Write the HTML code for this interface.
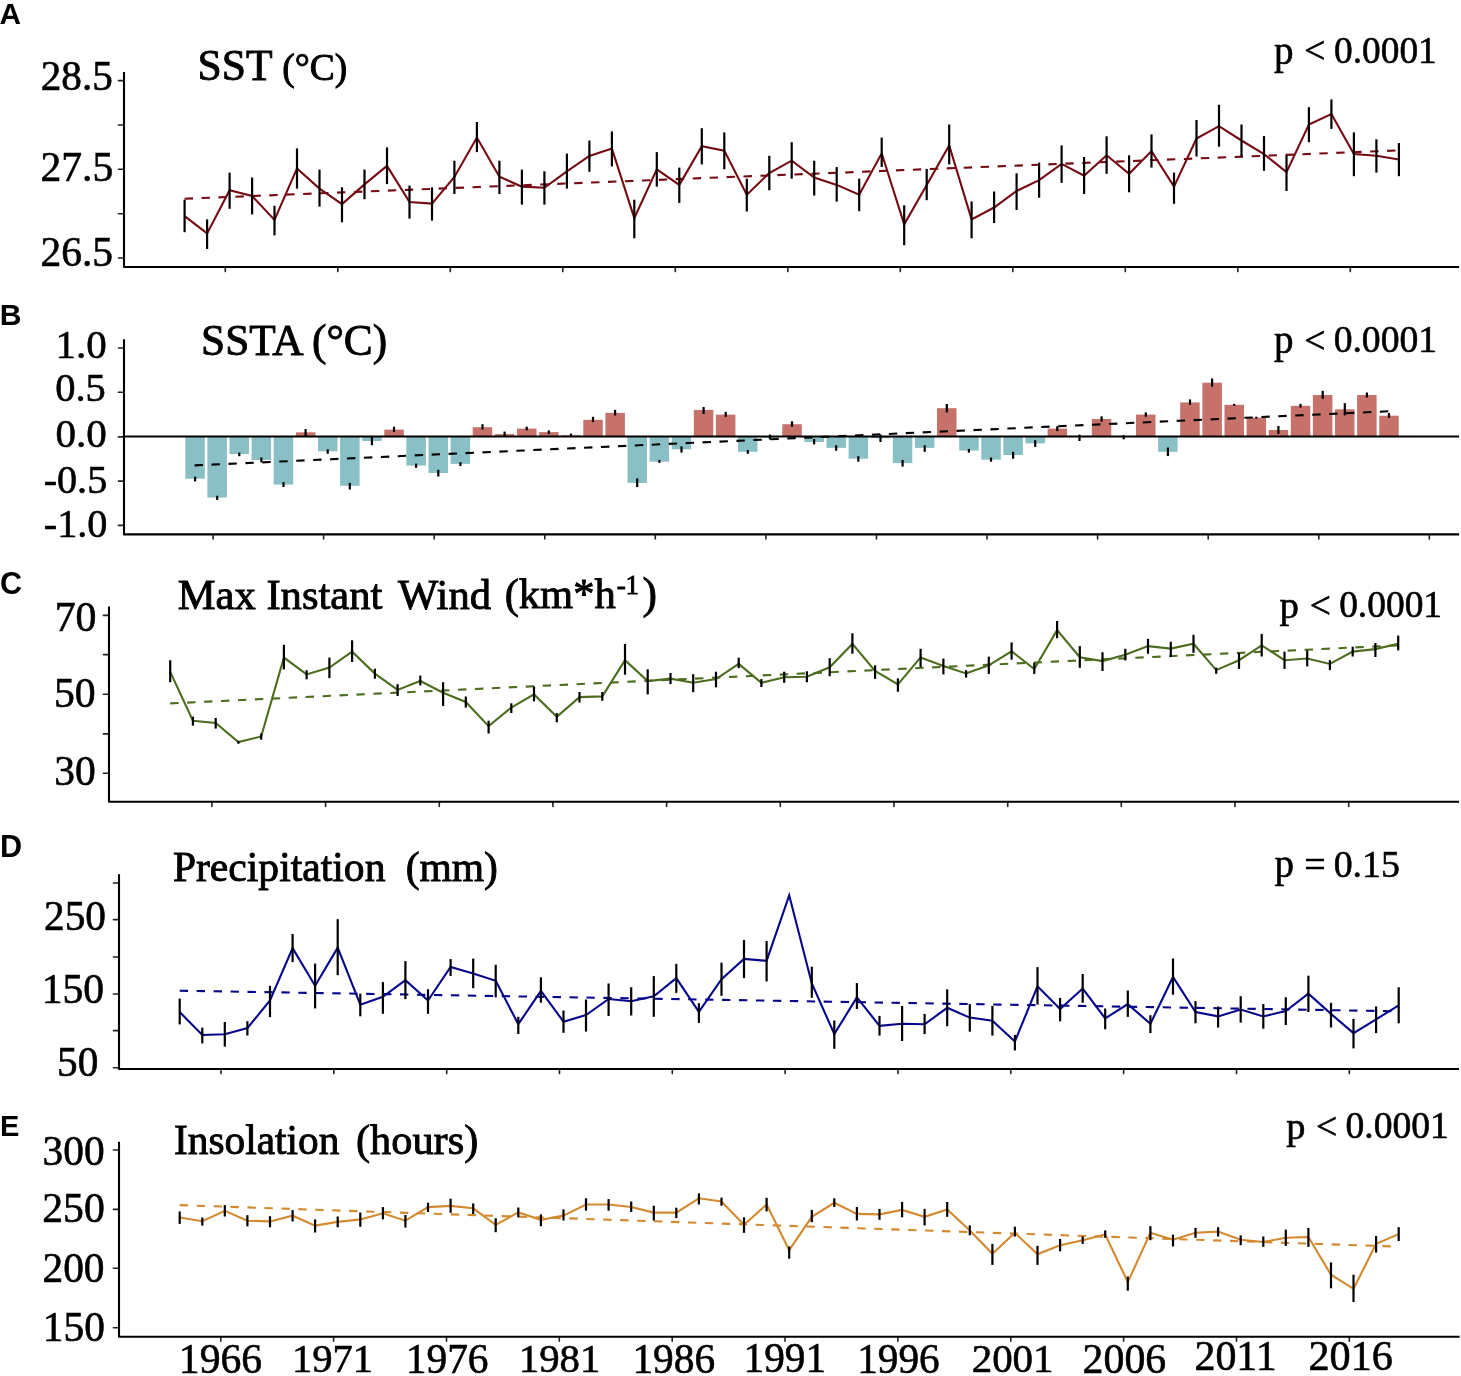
<!DOCTYPE html>
<html><head><meta charset="utf-8"><style>
html,body{margin:0;padding:0;background:#fff;overflow:hidden;}
svg{display:block;will-change:transform;}
</style></head><body>
<svg width="1461" height="1376" viewBox="0 0 1461 1376">
<rect width="1461" height="1376" fill="#fff"/>
<line x1="118.4" y1="80.6" x2="124" y2="80.6" stroke="#222" stroke-width="1.6" stroke-linecap="round"/>
<line x1="118.4" y1="125" x2="124" y2="125" stroke="#222" stroke-width="1.6" stroke-linecap="round"/>
<line x1="118.4" y1="169.2" x2="124" y2="169.2" stroke="#222" stroke-width="1.6" stroke-linecap="round"/>
<line x1="118.4" y1="213.8" x2="124" y2="213.8" stroke="#222" stroke-width="1.6" stroke-linecap="round"/>
<line x1="118.4" y1="258" x2="124" y2="258" stroke="#222" stroke-width="1.6" stroke-linecap="round"/>
<line x1="225.3" y1="267" x2="225.3" y2="271.6" stroke="#222" stroke-width="1.6" stroke-linecap="round"/>
<line x1="337.8" y1="267" x2="337.8" y2="271.6" stroke="#222" stroke-width="1.6" stroke-linecap="round"/>
<line x1="450.3" y1="267" x2="450.3" y2="271.6" stroke="#222" stroke-width="1.6" stroke-linecap="round"/>
<line x1="562.8" y1="267" x2="562.8" y2="271.6" stroke="#222" stroke-width="1.6" stroke-linecap="round"/>
<line x1="675.3" y1="267" x2="675.3" y2="271.6" stroke="#222" stroke-width="1.6" stroke-linecap="round"/>
<line x1="787.8" y1="267" x2="787.8" y2="271.6" stroke="#222" stroke-width="1.6" stroke-linecap="round"/>
<line x1="900.3" y1="267" x2="900.3" y2="271.6" stroke="#222" stroke-width="1.6" stroke-linecap="round"/>
<line x1="1012.8" y1="267" x2="1012.8" y2="271.6" stroke="#222" stroke-width="1.6" stroke-linecap="round"/>
<line x1="1125.3" y1="267" x2="1125.3" y2="271.6" stroke="#222" stroke-width="1.6" stroke-linecap="round"/>
<line x1="1237.8" y1="267" x2="1237.8" y2="271.6" stroke="#222" stroke-width="1.6" stroke-linecap="round"/>
<line x1="1350.3" y1="267" x2="1350.3" y2="271.6" stroke="#222" stroke-width="1.6" stroke-linecap="round"/>
<polyline points="124,71.9 124,267 1459.1,267" fill="none" stroke="#000" stroke-width="2.1" stroke-linejoin="round"/>
<line x1="184.6" y1="198.7" x2="1398.9" y2="150.4" stroke="#750a12" stroke-width="2.1" stroke-dasharray="8.4 8.55"/>
<polyline points="184.6,216.2 207.1,233.4 229.6,190.3 252.1,196.0 274.5,219.9 297.0,168.4 319.5,188.6 342.0,204.1 364.5,184.4 387.0,165.9 409.5,202.1 432.0,203.6 454.4,177.0 476.9,137.6 499.4,176.7 521.9,186.6 544.4,187.8 566.9,171.3 589.4,156.0 611.9,148.6 634.3,218.1 656.8,169.3 679.3,184.9 701.8,146.2 724.3,150.6 746.8,194.7 769.3,173.0 791.7,160.7 814.2,177.5 836.7,184.9 859.2,194.7 881.7,153.3 904.2,224.3 926.7,184.9 949.2,145.4 971.6,219.4 994.1,207.5 1016.6,191.0 1039.1,180.2 1061.6,163.9 1084.1,175.8 1106.6,155.3 1129.1,173.8 1151.5,151.1 1174.0,186.6 1196.5,138.5 1219.0,126.2 1241.5,140.5 1264.0,154.1 1286.5,172.1 1308.9,124.5 1331.4,114.1 1353.9,154.1 1376.4,155.8 1398.9,159.5" fill="none" stroke="#750a12" stroke-width="2.1" stroke-linejoin="miter" stroke-miterlimit="10"/>
<line x1="184.6" y1="199.7" x2="184.6" y2="232.2" stroke="#000" stroke-width="2.2"/>
<line x1="207.1" y1="219.4" x2="207.1" y2="249.0" stroke="#000" stroke-width="2.2"/>
<line x1="229.6" y1="172.6" x2="229.6" y2="208.8" stroke="#000" stroke-width="2.2"/>
<line x1="252.1" y1="177.5" x2="252.1" y2="214.4" stroke="#000" stroke-width="2.2"/>
<line x1="274.5" y1="205.8" x2="274.5" y2="235.4" stroke="#000" stroke-width="2.2"/>
<line x1="297.0" y1="148.4" x2="297.0" y2="188.6" stroke="#000" stroke-width="2.2"/>
<line x1="319.5" y1="169.6" x2="319.5" y2="206.6" stroke="#000" stroke-width="2.2"/>
<line x1="342.0" y1="187.3" x2="342.0" y2="222.3" stroke="#000" stroke-width="2.2"/>
<line x1="364.5" y1="169.6" x2="364.5" y2="199.2" stroke="#000" stroke-width="2.2"/>
<line x1="387.0" y1="147.4" x2="387.0" y2="184.1" stroke="#000" stroke-width="2.2"/>
<line x1="409.5" y1="185.6" x2="409.5" y2="218.6" stroke="#000" stroke-width="2.2"/>
<line x1="432.0" y1="187.3" x2="432.0" y2="220.6" stroke="#000" stroke-width="2.2"/>
<line x1="454.4" y1="160.7" x2="454.4" y2="194.0" stroke="#000" stroke-width="2.2"/>
<line x1="476.9" y1="122.0" x2="476.9" y2="152.1" stroke="#000" stroke-width="2.2"/>
<line x1="499.4" y1="160.7" x2="499.4" y2="194.0" stroke="#000" stroke-width="2.2"/>
<line x1="521.9" y1="169.6" x2="521.9" y2="204.6" stroke="#000" stroke-width="2.2"/>
<line x1="544.4" y1="171.3" x2="544.4" y2="204.6" stroke="#000" stroke-width="2.2"/>
<line x1="566.9" y1="153.6" x2="566.9" y2="188.6" stroke="#000" stroke-width="2.2"/>
<line x1="589.4" y1="140.5" x2="589.4" y2="171.8" stroke="#000" stroke-width="2.2"/>
<line x1="611.9" y1="131.4" x2="611.9" y2="166.4" stroke="#000" stroke-width="2.2"/>
<line x1="634.3" y1="199.7" x2="634.3" y2="238.3" stroke="#000" stroke-width="2.2"/>
<line x1="656.8" y1="152.1" x2="656.8" y2="186.6" stroke="#000" stroke-width="2.2"/>
<line x1="679.3" y1="167.6" x2="679.3" y2="202.9" stroke="#000" stroke-width="2.2"/>
<line x1="701.8" y1="128.2" x2="701.8" y2="164.4" stroke="#000" stroke-width="2.2"/>
<line x1="724.3" y1="132.4" x2="724.3" y2="169.3" stroke="#000" stroke-width="2.2"/>
<line x1="746.8" y1="178.7" x2="746.8" y2="211.5" stroke="#000" stroke-width="2.2"/>
<line x1="769.3" y1="155.8" x2="769.3" y2="190.3" stroke="#000" stroke-width="2.2"/>
<line x1="791.7" y1="142.2" x2="791.7" y2="178.7" stroke="#000" stroke-width="2.2"/>
<line x1="814.2" y1="160.7" x2="814.2" y2="195.5" stroke="#000" stroke-width="2.2"/>
<line x1="836.7" y1="167.1" x2="836.7" y2="201.6" stroke="#000" stroke-width="2.2"/>
<line x1="859.2" y1="178.7" x2="859.2" y2="211.2" stroke="#000" stroke-width="2.2"/>
<line x1="881.7" y1="137.6" x2="881.7" y2="166.9" stroke="#000" stroke-width="2.2"/>
<line x1="904.2" y1="205.3" x2="904.2" y2="245.2" stroke="#000" stroke-width="2.2"/>
<line x1="926.7" y1="168.9" x2="926.7" y2="200.2" stroke="#000" stroke-width="2.2"/>
<line x1="949.2" y1="124.5" x2="949.2" y2="164.4" stroke="#000" stroke-width="2.2"/>
<line x1="971.6" y1="201.4" x2="971.6" y2="238.3" stroke="#000" stroke-width="2.2"/>
<line x1="994.1" y1="191.5" x2="994.1" y2="223.1" stroke="#000" stroke-width="2.2"/>
<line x1="1016.6" y1="173.3" x2="1016.6" y2="210.0" stroke="#000" stroke-width="2.2"/>
<line x1="1039.1" y1="162.7" x2="1039.1" y2="197.7" stroke="#000" stroke-width="2.2"/>
<line x1="1061.6" y1="145.4" x2="1061.6" y2="182.9" stroke="#000" stroke-width="2.2"/>
<line x1="1084.1" y1="157.0" x2="1084.1" y2="194.0" stroke="#000" stroke-width="2.2"/>
<line x1="1106.6" y1="136.3" x2="1106.6" y2="173.8" stroke="#000" stroke-width="2.2"/>
<line x1="1129.1" y1="155.3" x2="1129.1" y2="192.3" stroke="#000" stroke-width="2.2"/>
<line x1="1151.5" y1="134.4" x2="1151.5" y2="167.6" stroke="#000" stroke-width="2.2"/>
<line x1="1174.0" y1="172.6" x2="1174.0" y2="203.8" stroke="#000" stroke-width="2.2"/>
<line x1="1196.5" y1="120.0" x2="1196.5" y2="156.5" stroke="#000" stroke-width="2.2"/>
<line x1="1219.0" y1="104.8" x2="1219.0" y2="146.7" stroke="#000" stroke-width="2.2"/>
<line x1="1241.5" y1="124.5" x2="1241.5" y2="157.0" stroke="#000" stroke-width="2.2"/>
<line x1="1264.0" y1="136.1" x2="1264.0" y2="170.8" stroke="#000" stroke-width="2.2"/>
<line x1="1286.5" y1="155.3" x2="1286.5" y2="191.0" stroke="#000" stroke-width="2.2"/>
<line x1="1308.9" y1="107.2" x2="1308.9" y2="142.2" stroke="#000" stroke-width="2.2"/>
<line x1="1331.4" y1="99.4" x2="1331.4" y2="128.9" stroke="#000" stroke-width="2.2"/>
<line x1="1353.9" y1="132.4" x2="1353.9" y2="176.2" stroke="#000" stroke-width="2.2"/>
<line x1="1376.4" y1="139.3" x2="1376.4" y2="172.6" stroke="#000" stroke-width="2.2"/>
<line x1="1398.9" y1="143.0" x2="1398.9" y2="176.2" stroke="#000" stroke-width="2.2"/>
<rect x="185.3" y="436.5" width="19.5" height="42.2" fill="#89c0c6"/>
<rect x="207.4" y="436.5" width="19.5" height="61.1" fill="#89c0c6"/>
<rect x="229.5" y="436.5" width="19.5" height="17.5" fill="#89c0c6"/>
<rect x="251.6" y="436.5" width="19.5" height="23.5" fill="#89c0c6"/>
<rect x="273.7" y="436.5" width="19.5" height="48.1" fill="#89c0c6"/>
<rect x="295.9" y="432.3" width="19.5" height="4.2" fill="#c6726b"/>
<rect x="318.0" y="436.5" width="19.5" height="14.8" fill="#89c0c6"/>
<rect x="340.1" y="436.5" width="19.5" height="49.3" fill="#89c0c6"/>
<rect x="362.2" y="436.5" width="19.5" height="4.5" fill="#89c0c6"/>
<rect x="384.3" y="429.6" width="19.5" height="6.9" fill="#c6726b"/>
<rect x="406.4" y="436.5" width="19.5" height="29.1" fill="#89c0c6"/>
<rect x="428.5" y="436.5" width="19.5" height="36.5" fill="#89c0c6"/>
<rect x="450.6" y="436.5" width="19.5" height="27.4" fill="#89c0c6"/>
<rect x="472.7" y="427.2" width="19.5" height="9.3" fill="#c6726b"/>
<rect x="494.8" y="434.1" width="19.5" height="2.4" fill="#c6726b"/>
<rect x="517.0" y="428.6" width="19.5" height="7.9" fill="#c6726b"/>
<rect x="539.1" y="432.1" width="19.5" height="4.4" fill="#c6726b"/>
<rect x="561.2" y="435.3" width="19.5" height="1.2" fill="#c6726b"/>
<rect x="583.3" y="419.8" width="19.5" height="16.7" fill="#c6726b"/>
<rect x="605.4" y="412.9" width="19.5" height="23.6" fill="#c6726b"/>
<rect x="627.5" y="436.5" width="19.5" height="46.4" fill="#89c0c6"/>
<rect x="649.6" y="436.5" width="19.5" height="25.2" fill="#89c0c6"/>
<rect x="671.7" y="436.5" width="19.5" height="12.8" fill="#89c0c6"/>
<rect x="693.8" y="409.9" width="19.5" height="26.6" fill="#c6726b"/>
<rect x="715.9" y="414.6" width="19.5" height="21.9" fill="#c6726b"/>
<rect x="738.0" y="436.5" width="19.5" height="15.3" fill="#89c0c6"/>
<rect x="760.2" y="436.5" width="19.5" height="1.3" fill="#89c0c6"/>
<rect x="782.3" y="424.2" width="19.5" height="12.3" fill="#c6726b"/>
<rect x="804.4" y="436.5" width="19.5" height="5.5" fill="#89c0c6"/>
<rect x="826.5" y="436.5" width="19.5" height="11.4" fill="#89c0c6"/>
<rect x="848.6" y="436.5" width="19.5" height="22.2" fill="#89c0c6"/>
<rect x="870.7" y="436.5" width="19.5" height="1.8" fill="#89c0c6"/>
<rect x="892.8" y="436.5" width="19.5" height="26.6" fill="#89c0c6"/>
<rect x="914.9" y="436.5" width="19.5" height="11.4" fill="#89c0c6"/>
<rect x="937.0" y="408.2" width="19.5" height="28.3" fill="#c6726b"/>
<rect x="959.2" y="436.5" width="19.5" height="14.1" fill="#89c0c6"/>
<rect x="981.3" y="436.5" width="19.5" height="23.2" fill="#89c0c6"/>
<rect x="1003.4" y="436.5" width="19.5" height="18.5" fill="#89c0c6"/>
<rect x="1025.5" y="436.5" width="19.5" height="6.9" fill="#89c0c6"/>
<rect x="1047.6" y="428.6" width="19.5" height="7.9" fill="#c6726b"/>
<rect x="1091.8" y="419.0" width="19.5" height="17.5" fill="#c6726b"/>
<rect x="1136.0" y="414.6" width="19.5" height="21.9" fill="#c6726b"/>
<rect x="1158.1" y="436.5" width="19.5" height="15.3" fill="#89c0c6"/>
<rect x="1180.2" y="402.4" width="19.5" height="34.1" fill="#c6726b"/>
<rect x="1202.4" y="382.7" width="19.5" height="53.8" fill="#c6726b"/>
<rect x="1224.5" y="404.8" width="19.5" height="31.7" fill="#c6726b"/>
<rect x="1246.6" y="417.7" width="19.5" height="18.8" fill="#c6726b"/>
<rect x="1268.7" y="430.0" width="19.5" height="6.5" fill="#c6726b"/>
<rect x="1290.8" y="405.8" width="19.5" height="30.7" fill="#c6726b"/>
<rect x="1312.9" y="395.0" width="19.5" height="41.5" fill="#c6726b"/>
<rect x="1335.0" y="409.3" width="19.5" height="27.2" fill="#c6726b"/>
<rect x="1357.1" y="395.0" width="19.5" height="41.5" fill="#c6726b"/>
<rect x="1379.2" y="415.7" width="19.5" height="20.8" fill="#c6726b"/>
<line x1="123" y1="436.5" x2="1459.1" y2="436.5" stroke="#000" stroke-width="2"/>
<line x1="195.1" y1="476.7" x2="195.1" y2="481.4" stroke="#000" stroke-width="2.2"/>
<line x1="217.2" y1="495.7" x2="217.2" y2="499.9" stroke="#000" stroke-width="2.2"/>
<line x1="239.3" y1="452.6" x2="239.3" y2="456.2" stroke="#000" stroke-width="2.2"/>
<line x1="261.4" y1="457.5" x2="261.4" y2="462.4" stroke="#000" stroke-width="2.2"/>
<line x1="283.5" y1="482.1" x2="283.5" y2="487.0" stroke="#000" stroke-width="2.2"/>
<line x1="305.6" y1="429.1" x2="305.6" y2="436.0" stroke="#000" stroke-width="2.2"/>
<line x1="327.7" y1="449.3" x2="327.7" y2="453.8" stroke="#000" stroke-width="2.2"/>
<line x1="349.8" y1="482.9" x2="349.8" y2="489.5" stroke="#000" stroke-width="2.2"/>
<line x1="371.9" y1="437.0" x2="371.9" y2="445.2" stroke="#000" stroke-width="2.2"/>
<line x1="394.0" y1="426.7" x2="394.0" y2="432.1" stroke="#000" stroke-width="2.2"/>
<line x1="416.1" y1="463.6" x2="416.1" y2="467.8" stroke="#000" stroke-width="2.2"/>
<line x1="438.3" y1="469.8" x2="438.3" y2="476.5" stroke="#000" stroke-width="2.2"/>
<line x1="460.4" y1="462.2" x2="460.4" y2="466.1" stroke="#000" stroke-width="2.2"/>
<line x1="482.5" y1="424.2" x2="482.5" y2="429.6" stroke="#000" stroke-width="2.2"/>
<line x1="504.6" y1="431.6" x2="504.6" y2="436.0" stroke="#000" stroke-width="2.2"/>
<line x1="526.7" y1="426.7" x2="526.7" y2="430.4" stroke="#000" stroke-width="2.2"/>
<line x1="548.8" y1="430.4" x2="548.8" y2="434.1" stroke="#000" stroke-width="2.2"/>
<line x1="570.9" y1="433.6" x2="570.9" y2="436.5" stroke="#000" stroke-width="2.2"/>
<line x1="593.0" y1="416.8" x2="593.0" y2="422.2" stroke="#000" stroke-width="2.2"/>
<line x1="615.1" y1="409.9" x2="615.1" y2="415.6" stroke="#000" stroke-width="2.2"/>
<line x1="637.2" y1="478.4" x2="637.2" y2="487.0" stroke="#000" stroke-width="2.2"/>
<line x1="659.4" y1="459.9" x2="659.4" y2="462.9" stroke="#000" stroke-width="2.2"/>
<line x1="681.5" y1="446.4" x2="681.5" y2="452.6" stroke="#000" stroke-width="2.2"/>
<line x1="703.6" y1="407.0" x2="703.6" y2="413.9" stroke="#000" stroke-width="2.2"/>
<line x1="725.7" y1="411.9" x2="725.7" y2="416.8" stroke="#000" stroke-width="2.2"/>
<line x1="747.8" y1="450.1" x2="747.8" y2="453.8" stroke="#000" stroke-width="2.2"/>
<line x1="769.9" y1="434.6" x2="769.9" y2="439.5" stroke="#000" stroke-width="2.2"/>
<line x1="792.0" y1="421.3" x2="792.0" y2="426.7" stroke="#000" stroke-width="2.2"/>
<line x1="814.1" y1="439.0" x2="814.1" y2="444.4" stroke="#000" stroke-width="2.2"/>
<line x1="836.2" y1="445.2" x2="836.2" y2="450.8" stroke="#000" stroke-width="2.2"/>
<line x1="858.3" y1="456.2" x2="858.3" y2="461.7" stroke="#000" stroke-width="2.2"/>
<line x1="880.5" y1="434.6" x2="880.5" y2="442.0" stroke="#000" stroke-width="2.2"/>
<line x1="902.6" y1="459.9" x2="902.6" y2="466.6" stroke="#000" stroke-width="2.2"/>
<line x1="924.7" y1="445.2" x2="924.7" y2="451.8" stroke="#000" stroke-width="2.2"/>
<line x1="946.8" y1="404.0" x2="946.8" y2="412.4" stroke="#000" stroke-width="2.2"/>
<line x1="968.9" y1="448.9" x2="968.9" y2="452.6" stroke="#000" stroke-width="2.2"/>
<line x1="991.0" y1="457.5" x2="991.0" y2="461.7" stroke="#000" stroke-width="2.2"/>
<line x1="1013.1" y1="451.8" x2="1013.1" y2="458.7" stroke="#000" stroke-width="2.2"/>
<line x1="1035.2" y1="440.2" x2="1035.2" y2="446.9" stroke="#000" stroke-width="2.2"/>
<line x1="1057.3" y1="426.2" x2="1057.3" y2="431.1" stroke="#000" stroke-width="2.2"/>
<line x1="1079.5" y1="434.6" x2="1079.5" y2="441.0" stroke="#000" stroke-width="2.2"/>
<line x1="1101.6" y1="416.3" x2="1101.6" y2="421.7" stroke="#000" stroke-width="2.2"/>
<line x1="1123.7" y1="435.2" x2="1123.7" y2="439.3" stroke="#000" stroke-width="2.2"/>
<line x1="1145.8" y1="412.4" x2="1145.8" y2="416.8" stroke="#000" stroke-width="2.2"/>
<line x1="1167.9" y1="447.5" x2="1167.9" y2="456.1" stroke="#000" stroke-width="2.2"/>
<line x1="1190.0" y1="399.4" x2="1190.0" y2="404.8" stroke="#000" stroke-width="2.2"/>
<line x1="1212.1" y1="378.5" x2="1212.1" y2="386.6" stroke="#000" stroke-width="2.2"/>
<line x1="1234.2" y1="403.9" x2="1234.2" y2="405.8" stroke="#000" stroke-width="2.2"/>
<line x1="1256.3" y1="416.7" x2="1256.3" y2="418.6" stroke="#000" stroke-width="2.2"/>
<line x1="1278.4" y1="426.0" x2="1278.4" y2="433.9" stroke="#000" stroke-width="2.2"/>
<line x1="1300.5" y1="403.9" x2="1300.5" y2="407.6" stroke="#000" stroke-width="2.2"/>
<line x1="1322.7" y1="390.8" x2="1322.7" y2="398.9" stroke="#000" stroke-width="2.2"/>
<line x1="1344.8" y1="403.1" x2="1344.8" y2="415.4" stroke="#000" stroke-width="2.2"/>
<line x1="1366.9" y1="392.5" x2="1366.9" y2="397.5" stroke="#000" stroke-width="2.2"/>
<line x1="1389.0" y1="413.0" x2="1389.0" y2="417.9" stroke="#000" stroke-width="2.2"/>
<line x1="194.6" y1="465.4" x2="1388.3" y2="411.3" stroke="#000" stroke-width="2.1" stroke-dasharray="8.4 8.55"/>
<line x1="118.4" y1="348" x2="124" y2="348" stroke="#222" stroke-width="1.6" stroke-linecap="round"/>
<line x1="118.4" y1="392.3" x2="124" y2="392.3" stroke="#222" stroke-width="1.6" stroke-linecap="round"/>
<line x1="118.4" y1="436.9" x2="124" y2="436.9" stroke="#222" stroke-width="1.6" stroke-linecap="round"/>
<line x1="118.4" y1="481.1" x2="124" y2="481.1" stroke="#222" stroke-width="1.6" stroke-linecap="round"/>
<line x1="118.4" y1="525.4" x2="124" y2="525.4" stroke="#222" stroke-width="1.6" stroke-linecap="round"/>
<line x1="213.1" y1="534.4" x2="213.1" y2="539.0" stroke="#222" stroke-width="1.6" stroke-linecap="round"/>
<line x1="323.6" y1="534.4" x2="323.6" y2="539.0" stroke="#222" stroke-width="1.6" stroke-linecap="round"/>
<line x1="434.2" y1="534.4" x2="434.2" y2="539.0" stroke="#222" stroke-width="1.6" stroke-linecap="round"/>
<line x1="544.8" y1="534.4" x2="544.8" y2="539.0" stroke="#222" stroke-width="1.6" stroke-linecap="round"/>
<line x1="655.3" y1="534.4" x2="655.3" y2="539.0" stroke="#222" stroke-width="1.6" stroke-linecap="round"/>
<line x1="765.9" y1="534.4" x2="765.9" y2="539.0" stroke="#222" stroke-width="1.6" stroke-linecap="round"/>
<line x1="876.5" y1="534.4" x2="876.5" y2="539.0" stroke="#222" stroke-width="1.6" stroke-linecap="round"/>
<line x1="987.0" y1="534.4" x2="987.0" y2="539.0" stroke="#222" stroke-width="1.6" stroke-linecap="round"/>
<line x1="1097.6" y1="534.4" x2="1097.6" y2="539.0" stroke="#222" stroke-width="1.6" stroke-linecap="round"/>
<line x1="1208.2" y1="534.4" x2="1208.2" y2="539.0" stroke="#222" stroke-width="1.6" stroke-linecap="round"/>
<line x1="1318.8" y1="534.4" x2="1318.8" y2="539.0" stroke="#222" stroke-width="1.6" stroke-linecap="round"/>
<line x1="1429.3" y1="534.4" x2="1429.3" y2="539.0" stroke="#222" stroke-width="1.6" stroke-linecap="round"/>
<polyline points="124,339.2 124,534.4 1459.1,534.4" fill="none" stroke="#000" stroke-width="2.1" stroke-linejoin="round"/>
<line x1="103.4" y1="615.4" x2="109" y2="615.4" stroke="#222" stroke-width="1.6" stroke-linecap="round"/>
<line x1="103.4" y1="654.6" x2="109" y2="654.6" stroke="#222" stroke-width="1.6" stroke-linecap="round"/>
<line x1="103.4" y1="694.3" x2="109" y2="694.3" stroke="#222" stroke-width="1.6" stroke-linecap="round"/>
<line x1="103.4" y1="733.9" x2="109" y2="733.9" stroke="#222" stroke-width="1.6" stroke-linecap="round"/>
<line x1="103.4" y1="773.2" x2="109" y2="773.2" stroke="#222" stroke-width="1.6" stroke-linecap="round"/>
<line x1="211.9" y1="801.8" x2="211.9" y2="806.4" stroke="#222" stroke-width="1.6" stroke-linecap="round"/>
<line x1="325.6" y1="801.8" x2="325.6" y2="806.4" stroke="#222" stroke-width="1.6" stroke-linecap="round"/>
<line x1="439.3" y1="801.8" x2="439.3" y2="806.4" stroke="#222" stroke-width="1.6" stroke-linecap="round"/>
<line x1="552.9" y1="801.8" x2="552.9" y2="806.4" stroke="#222" stroke-width="1.6" stroke-linecap="round"/>
<line x1="666.6" y1="801.8" x2="666.6" y2="806.4" stroke="#222" stroke-width="1.6" stroke-linecap="round"/>
<line x1="780.3" y1="801.8" x2="780.3" y2="806.4" stroke="#222" stroke-width="1.6" stroke-linecap="round"/>
<line x1="894.0" y1="801.8" x2="894.0" y2="806.4" stroke="#222" stroke-width="1.6" stroke-linecap="round"/>
<line x1="1007.7" y1="801.8" x2="1007.7" y2="806.4" stroke="#222" stroke-width="1.6" stroke-linecap="round"/>
<line x1="1121.3" y1="801.8" x2="1121.3" y2="806.4" stroke="#222" stroke-width="1.6" stroke-linecap="round"/>
<line x1="1235.0" y1="801.8" x2="1235.0" y2="806.4" stroke="#222" stroke-width="1.6" stroke-linecap="round"/>
<line x1="1348.7" y1="801.8" x2="1348.7" y2="806.4" stroke="#222" stroke-width="1.6" stroke-linecap="round"/>
<polyline points="109,606.6 109,801.8 1459,801.8" fill="none" stroke="#000" stroke-width="2.1" stroke-linejoin="round"/>
<line x1="170.2" y1="703.4" x2="1398.2" y2="645.4" stroke="#4c6d1e" stroke-width="2.1" stroke-dasharray="8.4 8.55"/>
<polyline points="170.2,671.9 192.9,720.7 215.7,722.9 238.4,742.1 261.2,736.5 283.9,657.6 306.6,674.4 329.4,667.5 352.1,651.7 374.9,673.6 397.6,689.9 420.3,681.0 443.1,692.8 465.8,702.0 488.6,726.1 511.3,707.5 534.0,694.4 556.8,716.8 579.5,697.1 602.3,696.4 625.0,660.2 647.7,681.1 670.5,678.6 693.2,682.8 716.0,679.1 738.7,663.9 761.4,682.8 784.2,677.2 806.9,676.7 829.7,667.3 852.4,643.9 875.1,671.0 897.9,684.5 920.6,657.4 943.4,666.0 966.1,673.4 988.8,665.3 1011.6,651.3 1034.3,669.0 1057.1,630.1 1079.8,657.2 1102.5,661.1 1125.3,654.7 1148.0,646.1 1170.8,648.6 1193.5,643.7 1216.2,670.1 1239.0,660.2 1261.7,645.4 1284.5,660.2 1307.2,658.5 1329.9,663.9 1352.7,651.6 1375.4,649.1 1398.2,643.7" fill="none" stroke="#4c6d1e" stroke-width="2.1" stroke-linejoin="miter" stroke-miterlimit="10"/>
<line x1="170.2" y1="660.3" x2="170.2" y2="682.2" stroke="#000" stroke-width="2.2"/>
<line x1="192.9" y1="716.7" x2="192.9" y2="725.6" stroke="#000" stroke-width="2.2"/>
<line x1="215.7" y1="718.0" x2="215.7" y2="728.6" stroke="#000" stroke-width="2.2"/>
<line x1="238.4" y1="740.9" x2="238.4" y2="743.8" stroke="#000" stroke-width="2.2"/>
<line x1="261.2" y1="733.5" x2="261.2" y2="739.7" stroke="#000" stroke-width="2.2"/>
<line x1="283.9" y1="644.8" x2="283.9" y2="669.4" stroke="#000" stroke-width="2.2"/>
<line x1="306.6" y1="670.2" x2="306.6" y2="679.3" stroke="#000" stroke-width="2.2"/>
<line x1="329.4" y1="657.6" x2="329.4" y2="678.1" stroke="#000" stroke-width="2.2"/>
<line x1="352.1" y1="640.3" x2="352.1" y2="662.0" stroke="#000" stroke-width="2.2"/>
<line x1="374.9" y1="668.7" x2="374.9" y2="678.8" stroke="#000" stroke-width="2.2"/>
<line x1="397.6" y1="684.2" x2="397.6" y2="696.0" stroke="#000" stroke-width="2.2"/>
<line x1="420.3" y1="675.6" x2="420.3" y2="685.4" stroke="#000" stroke-width="2.2"/>
<line x1="443.1" y1="682.2" x2="443.1" y2="705.9" stroke="#000" stroke-width="2.2"/>
<line x1="465.8" y1="696.5" x2="465.8" y2="707.6" stroke="#000" stroke-width="2.2"/>
<line x1="488.6" y1="720.7" x2="488.6" y2="733.5" stroke="#000" stroke-width="2.2"/>
<line x1="511.3" y1="703.3" x2="511.3" y2="713.1" stroke="#000" stroke-width="2.2"/>
<line x1="534.0" y1="686.5" x2="534.0" y2="701.3" stroke="#000" stroke-width="2.2"/>
<line x1="556.8" y1="713.1" x2="556.8" y2="722.3" stroke="#000" stroke-width="2.2"/>
<line x1="579.5" y1="692.0" x2="579.5" y2="702.6" stroke="#000" stroke-width="2.2"/>
<line x1="602.3" y1="692.0" x2="602.3" y2="700.8" stroke="#000" stroke-width="2.2"/>
<line x1="625.0" y1="643.9" x2="625.0" y2="674.7" stroke="#000" stroke-width="2.2"/>
<line x1="647.7" y1="669.3" x2="647.7" y2="694.4" stroke="#000" stroke-width="2.2"/>
<line x1="670.5" y1="673.0" x2="670.5" y2="684.1" stroke="#000" stroke-width="2.2"/>
<line x1="693.2" y1="674.2" x2="693.2" y2="692.2" stroke="#000" stroke-width="2.2"/>
<line x1="716.0" y1="671.7" x2="716.0" y2="687.3" stroke="#000" stroke-width="2.2"/>
<line x1="738.7" y1="657.7" x2="738.7" y2="668.1" stroke="#000" stroke-width="2.2"/>
<line x1="761.4" y1="679.1" x2="761.4" y2="687.0" stroke="#000" stroke-width="2.2"/>
<line x1="784.2" y1="671.7" x2="784.2" y2="682.8" stroke="#000" stroke-width="2.2"/>
<line x1="806.9" y1="671.3" x2="806.9" y2="682.3" stroke="#000" stroke-width="2.2"/>
<line x1="829.7" y1="658.2" x2="829.7" y2="676.2" stroke="#000" stroke-width="2.2"/>
<line x1="852.4" y1="633.3" x2="852.4" y2="653.7" stroke="#000" stroke-width="2.2"/>
<line x1="875.1" y1="665.3" x2="875.1" y2="678.9" stroke="#000" stroke-width="2.2"/>
<line x1="897.9" y1="678.4" x2="897.9" y2="691.7" stroke="#000" stroke-width="2.2"/>
<line x1="920.6" y1="648.8" x2="920.6" y2="667.0" stroke="#000" stroke-width="2.2"/>
<line x1="943.4" y1="658.6" x2="943.4" y2="674.4" stroke="#000" stroke-width="2.2"/>
<line x1="966.1" y1="670.2" x2="966.1" y2="677.6" stroke="#000" stroke-width="2.2"/>
<line x1="988.8" y1="656.7" x2="988.8" y2="673.9" stroke="#000" stroke-width="2.2"/>
<line x1="1011.6" y1="642.4" x2="1011.6" y2="659.6" stroke="#000" stroke-width="2.2"/>
<line x1="1034.3" y1="662.8" x2="1034.3" y2="673.9" stroke="#000" stroke-width="2.2"/>
<line x1="1057.1" y1="621.0" x2="1057.1" y2="638.2" stroke="#000" stroke-width="2.2"/>
<line x1="1079.8" y1="646.1" x2="1079.8" y2="667.8" stroke="#000" stroke-width="2.2"/>
<line x1="1102.5" y1="652.2" x2="1102.5" y2="671.0" stroke="#000" stroke-width="2.2"/>
<line x1="1125.3" y1="648.8" x2="1125.3" y2="660.4" stroke="#000" stroke-width="2.2"/>
<line x1="1148.0" y1="638.9" x2="1148.0" y2="653.7" stroke="#000" stroke-width="2.2"/>
<line x1="1170.8" y1="641.7" x2="1170.8" y2="657.0" stroke="#000" stroke-width="2.2"/>
<line x1="1193.5" y1="634.8" x2="1193.5" y2="652.8" stroke="#000" stroke-width="2.2"/>
<line x1="1216.2" y1="667.6" x2="1216.2" y2="673.8" stroke="#000" stroke-width="2.2"/>
<line x1="1239.0" y1="652.8" x2="1239.0" y2="668.9" stroke="#000" stroke-width="2.2"/>
<line x1="1261.7" y1="633.9" x2="1261.7" y2="656.5" stroke="#000" stroke-width="2.2"/>
<line x1="1284.5" y1="651.6" x2="1284.5" y2="668.9" stroke="#000" stroke-width="2.2"/>
<line x1="1307.2" y1="650.4" x2="1307.2" y2="666.4" stroke="#000" stroke-width="2.2"/>
<line x1="1329.9" y1="660.2" x2="1329.9" y2="670.1" stroke="#000" stroke-width="2.2"/>
<line x1="1352.7" y1="646.7" x2="1352.7" y2="656.5" stroke="#000" stroke-width="2.2"/>
<line x1="1375.4" y1="643.0" x2="1375.4" y2="657.0" stroke="#000" stroke-width="2.2"/>
<line x1="1398.2" y1="635.6" x2="1398.2" y2="650.4" stroke="#000" stroke-width="2.2"/>
<line x1="113.4" y1="883" x2="119" y2="883" stroke="#222" stroke-width="1.6" stroke-linecap="round"/>
<line x1="113.4" y1="919.6" x2="119" y2="919.6" stroke="#222" stroke-width="1.6" stroke-linecap="round"/>
<line x1="113.4" y1="957" x2="119" y2="957" stroke="#222" stroke-width="1.6" stroke-linecap="round"/>
<line x1="113.4" y1="994" x2="119" y2="994" stroke="#222" stroke-width="1.6" stroke-linecap="round"/>
<line x1="113.4" y1="1030.6" x2="119" y2="1030.6" stroke="#222" stroke-width="1.6" stroke-linecap="round"/>
<line x1="113.4" y1="1067.7" x2="119" y2="1067.7" stroke="#222" stroke-width="1.6" stroke-linecap="round"/>
<line x1="221.0" y1="1069" x2="221.0" y2="1073.6" stroke="#222" stroke-width="1.6" stroke-linecap="round"/>
<line x1="333.8" y1="1069" x2="333.8" y2="1073.6" stroke="#222" stroke-width="1.6" stroke-linecap="round"/>
<line x1="446.7" y1="1069" x2="446.7" y2="1073.6" stroke="#222" stroke-width="1.6" stroke-linecap="round"/>
<line x1="559.5" y1="1069" x2="559.5" y2="1073.6" stroke="#222" stroke-width="1.6" stroke-linecap="round"/>
<line x1="672.3" y1="1069" x2="672.3" y2="1073.6" stroke="#222" stroke-width="1.6" stroke-linecap="round"/>
<line x1="785.1" y1="1069" x2="785.1" y2="1073.6" stroke="#222" stroke-width="1.6" stroke-linecap="round"/>
<line x1="898.0" y1="1069" x2="898.0" y2="1073.6" stroke="#222" stroke-width="1.6" stroke-linecap="round"/>
<line x1="1010.8" y1="1069" x2="1010.8" y2="1073.6" stroke="#222" stroke-width="1.6" stroke-linecap="round"/>
<line x1="1123.6" y1="1069" x2="1123.6" y2="1073.6" stroke="#222" stroke-width="1.6" stroke-linecap="round"/>
<line x1="1236.5" y1="1069" x2="1236.5" y2="1073.6" stroke="#222" stroke-width="1.6" stroke-linecap="round"/>
<line x1="1349.3" y1="1069" x2="1349.3" y2="1073.6" stroke="#222" stroke-width="1.6" stroke-linecap="round"/>
<polyline points="119,874.3 119,1069 1459,1069" fill="none" stroke="#000" stroke-width="2.1" stroke-linejoin="round"/>
<line x1="179.7" y1="990.7" x2="1398.7" y2="1011.3" stroke="#06068c" stroke-width="2.1" stroke-dasharray="8.4 8.55"/>
<polyline points="179.7,1012.1 202.3,1035.0 224.8,1034.3 247.4,1028.1 270.0,1000.5 292.6,948.1 315.1,985.8 337.7,947.6 360.3,1004.7 382.9,996.8 405.4,980.1 428.0,1000.5 450.6,967.0 473.2,973.4 495.7,980.8 518.3,1024.2 540.9,990.9 563.5,1021.7 586.0,1015.0 608.6,999.0 631.2,1001.2 653.8,996.3 676.3,978.1 698.9,1011.8 721.5,979.1 744.0,958.9 766.6,960.8 789.2,895.3 811.8,983.5 834.3,1034.0 856.9,997.4 879.5,1025.8 902.1,1023.8 924.6,1024.3 947.2,1007.8 969.8,1017.6 992.4,1020.8 1014.9,1041.5 1037.5,986.3 1060.1,1009.0 1082.7,988.5 1105.2,1018.4 1127.8,1004.1 1150.4,1023.8 1173.0,977.0 1195.5,1012.0 1218.1,1016.4 1240.7,1009.5 1263.3,1016.4 1285.8,1011.0 1308.4,993.7 1331.0,1013.9 1353.5,1033.1 1376.1,1019.3 1398.7,1005.3" fill="none" stroke="#06068c" stroke-width="2.1" stroke-linejoin="miter" stroke-miterlimit="10"/>
<line x1="179.7" y1="998.6" x2="179.7" y2="1024.4" stroke="#000" stroke-width="2.2"/>
<line x1="202.3" y1="1027.6" x2="202.3" y2="1043.4" stroke="#000" stroke-width="2.2"/>
<line x1="224.8" y1="1022.0" x2="224.8" y2="1046.6" stroke="#000" stroke-width="2.2"/>
<line x1="247.4" y1="1021.2" x2="247.4" y2="1035.5" stroke="#000" stroke-width="2.2"/>
<line x1="270.0" y1="985.8" x2="270.0" y2="1017.1" stroke="#000" stroke-width="2.2"/>
<line x1="292.6" y1="934.0" x2="292.6" y2="962.1" stroke="#000" stroke-width="2.2"/>
<line x1="315.1" y1="963.6" x2="315.1" y2="1008.4" stroke="#000" stroke-width="2.2"/>
<line x1="337.7" y1="919.2" x2="337.7" y2="975.2" stroke="#000" stroke-width="2.2"/>
<line x1="360.3" y1="993.6" x2="360.3" y2="1016.3" stroke="#000" stroke-width="2.2"/>
<line x1="382.9" y1="982.1" x2="382.9" y2="1013.8" stroke="#000" stroke-width="2.2"/>
<line x1="405.4" y1="961.1" x2="405.4" y2="999.1" stroke="#000" stroke-width="2.2"/>
<line x1="428.0" y1="989.2" x2="428.0" y2="1013.8" stroke="#000" stroke-width="2.2"/>
<line x1="450.6" y1="959.1" x2="450.6" y2="975.9" stroke="#000" stroke-width="2.2"/>
<line x1="473.2" y1="958.6" x2="473.2" y2="988.2" stroke="#000" stroke-width="2.2"/>
<line x1="495.7" y1="964.8" x2="495.7" y2="997.3" stroke="#000" stroke-width="2.2"/>
<line x1="518.3" y1="1016.8" x2="518.3" y2="1034.0" stroke="#000" stroke-width="2.2"/>
<line x1="540.9" y1="977.3" x2="540.9" y2="1002.7" stroke="#000" stroke-width="2.2"/>
<line x1="563.5" y1="1010.6" x2="563.5" y2="1032.8" stroke="#000" stroke-width="2.2"/>
<line x1="586.0" y1="999.5" x2="586.0" y2="1031.6" stroke="#000" stroke-width="2.2"/>
<line x1="608.6" y1="983.5" x2="608.6" y2="1016.0" stroke="#000" stroke-width="2.2"/>
<line x1="631.2" y1="987.2" x2="631.2" y2="1015.5" stroke="#000" stroke-width="2.2"/>
<line x1="653.8" y1="976.1" x2="653.8" y2="1016.8" stroke="#000" stroke-width="2.2"/>
<line x1="676.3" y1="963.8" x2="676.3" y2="992.9" stroke="#000" stroke-width="2.2"/>
<line x1="698.9" y1="1003.2" x2="698.9" y2="1022.9" stroke="#000" stroke-width="2.2"/>
<line x1="721.5" y1="962.6" x2="721.5" y2="995.8" stroke="#000" stroke-width="2.2"/>
<line x1="744.0" y1="939.9" x2="744.0" y2="978.1" stroke="#000" stroke-width="2.2"/>
<line x1="766.6" y1="941.1" x2="766.6" y2="981.5" stroke="#000" stroke-width="2.2"/>
<line x1="811.8" y1="966.7" x2="811.8" y2="997.8" stroke="#000" stroke-width="2.2"/>
<line x1="834.3" y1="1020.5" x2="834.3" y2="1048.8" stroke="#000" stroke-width="2.2"/>
<line x1="856.9" y1="983.1" x2="856.9" y2="1009.0" stroke="#000" stroke-width="2.2"/>
<line x1="879.5" y1="1015.9" x2="879.5" y2="1035.6" stroke="#000" stroke-width="2.2"/>
<line x1="902.1" y1="1006.0" x2="902.1" y2="1041.0" stroke="#000" stroke-width="2.2"/>
<line x1="924.6" y1="1013.9" x2="924.6" y2="1034.1" stroke="#000" stroke-width="2.2"/>
<line x1="947.2" y1="989.3" x2="947.2" y2="1026.2" stroke="#000" stroke-width="2.2"/>
<line x1="969.8" y1="1004.1" x2="969.8" y2="1031.7" stroke="#000" stroke-width="2.2"/>
<line x1="992.4" y1="1006.0" x2="992.4" y2="1035.6" stroke="#000" stroke-width="2.2"/>
<line x1="1014.9" y1="1034.9" x2="1014.9" y2="1050.4" stroke="#000" stroke-width="2.2"/>
<line x1="1037.5" y1="967.1" x2="1037.5" y2="1004.6" stroke="#000" stroke-width="2.2"/>
<line x1="1060.1" y1="997.9" x2="1060.1" y2="1021.3" stroke="#000" stroke-width="2.2"/>
<line x1="1082.7" y1="974.0" x2="1082.7" y2="1002.8" stroke="#000" stroke-width="2.2"/>
<line x1="1105.2" y1="1008.5" x2="1105.2" y2="1029.2" stroke="#000" stroke-width="2.2"/>
<line x1="1127.8" y1="990.5" x2="1127.8" y2="1016.9" stroke="#000" stroke-width="2.2"/>
<line x1="1150.4" y1="1015.2" x2="1150.4" y2="1033.1" stroke="#000" stroke-width="2.2"/>
<line x1="1173.0" y1="958.5" x2="1173.0" y2="994.7" stroke="#000" stroke-width="2.2"/>
<line x1="1195.5" y1="1001.1" x2="1195.5" y2="1023.3" stroke="#000" stroke-width="2.2"/>
<line x1="1218.1" y1="1006.5" x2="1218.1" y2="1027.5" stroke="#000" stroke-width="2.2"/>
<line x1="1240.7" y1="996.2" x2="1240.7" y2="1022.6" stroke="#000" stroke-width="2.2"/>
<line x1="1263.3" y1="1004.1" x2="1263.3" y2="1028.7" stroke="#000" stroke-width="2.2"/>
<line x1="1285.8" y1="997.2" x2="1285.8" y2="1025.0" stroke="#000" stroke-width="2.2"/>
<line x1="1308.4" y1="975.7" x2="1308.4" y2="1012.0" stroke="#000" stroke-width="2.2"/>
<line x1="1331.0" y1="1002.8" x2="1331.0" y2="1027.5" stroke="#000" stroke-width="2.2"/>
<line x1="1353.5" y1="1018.9" x2="1353.5" y2="1048.4" stroke="#000" stroke-width="2.2"/>
<line x1="1376.1" y1="1006.5" x2="1376.1" y2="1033.1" stroke="#000" stroke-width="2.2"/>
<line x1="1398.7" y1="987.3" x2="1398.7" y2="1023.3" stroke="#000" stroke-width="2.2"/>
<line x1="113.4" y1="1150" x2="119" y2="1150" stroke="#222" stroke-width="1.6" stroke-linecap="round"/>
<line x1="113.4" y1="1209.4" x2="119" y2="1209.4" stroke="#222" stroke-width="1.6" stroke-linecap="round"/>
<line x1="113.4" y1="1268.3" x2="119" y2="1268.3" stroke="#222" stroke-width="1.6" stroke-linecap="round"/>
<line x1="113.4" y1="1327.7" x2="119" y2="1327.7" stroke="#222" stroke-width="1.6" stroke-linecap="round"/>
<line x1="220.8" y1="1336.7" x2="220.8" y2="1341.3" stroke="#222" stroke-width="1.6" stroke-linecap="round"/>
<line x1="333.6" y1="1336.7" x2="333.6" y2="1341.3" stroke="#222" stroke-width="1.6" stroke-linecap="round"/>
<line x1="446.5" y1="1336.7" x2="446.5" y2="1341.3" stroke="#222" stroke-width="1.6" stroke-linecap="round"/>
<line x1="559.3" y1="1336.7" x2="559.3" y2="1341.3" stroke="#222" stroke-width="1.6" stroke-linecap="round"/>
<line x1="672.2" y1="1336.7" x2="672.2" y2="1341.3" stroke="#222" stroke-width="1.6" stroke-linecap="round"/>
<line x1="785.0" y1="1336.7" x2="785.0" y2="1341.3" stroke="#222" stroke-width="1.6" stroke-linecap="round"/>
<line x1="897.9" y1="1336.7" x2="897.9" y2="1341.3" stroke="#222" stroke-width="1.6" stroke-linecap="round"/>
<line x1="1010.8" y1="1336.7" x2="1010.8" y2="1341.3" stroke="#222" stroke-width="1.6" stroke-linecap="round"/>
<line x1="1123.6" y1="1336.7" x2="1123.6" y2="1341.3" stroke="#222" stroke-width="1.6" stroke-linecap="round"/>
<line x1="1236.5" y1="1336.7" x2="1236.5" y2="1341.3" stroke="#222" stroke-width="1.6" stroke-linecap="round"/>
<line x1="1349.3" y1="1336.7" x2="1349.3" y2="1341.3" stroke="#222" stroke-width="1.6" stroke-linecap="round"/>
<polyline points="119,1141.7 119,1336.7 1459.6,1336.7" fill="none" stroke="#000" stroke-width="2.1" stroke-linejoin="round"/>
<line x1="179.7" y1="1205.1" x2="1390.8" y2="1246.4" stroke="#d4892e" stroke-width="2.1" stroke-dasharray="8.4 8.55"/>
<polyline points="179.7,1217.5 202.3,1221.2 224.8,1210.8 247.4,1220.7 270.0,1221.4 292.6,1215.7 315.1,1225.6 337.7,1221.9 360.3,1219.4 382.9,1213.3 405.4,1220.7 428.0,1207.1 450.6,1205.9 473.2,1208.3 495.7,1224.8 518.3,1212.4 540.9,1219.8 563.5,1215.6 586.0,1204.5 608.6,1204.5 631.2,1207.0 653.8,1212.6 676.3,1212.6 698.9,1198.3 721.5,1201.5 744.0,1224.7 766.6,1204.5 789.2,1250.1 811.8,1216.8 834.3,1202.8 856.9,1213.9 879.5,1214.4 902.1,1209.9 924.6,1216.8 947.2,1209.4 969.8,1230.4 992.4,1253.8 1014.9,1232.8 1037.5,1254.3 1060.1,1245.2 1082.7,1240.2 1105.2,1234.6 1127.8,1282.1 1150.4,1232.8 1173.0,1239.7 1195.5,1232.8 1218.1,1231.6 1240.7,1239.7 1263.3,1242.0 1285.8,1237.8 1308.4,1237.0 1331.0,1274.7 1353.5,1288.8 1376.1,1243.9 1398.7,1234.1" fill="none" stroke="#d4892e" stroke-width="2.1" stroke-linejoin="miter" stroke-miterlimit="10"/>
<line x1="179.7" y1="1211.5" x2="179.7" y2="1223.9" stroke="#000" stroke-width="2.2"/>
<line x1="202.3" y1="1217.5" x2="202.3" y2="1225.6" stroke="#000" stroke-width="2.2"/>
<line x1="224.8" y1="1205.1" x2="224.8" y2="1216.5" stroke="#000" stroke-width="2.2"/>
<line x1="247.4" y1="1215.2" x2="247.4" y2="1226.3" stroke="#000" stroke-width="2.2"/>
<line x1="270.0" y1="1216.2" x2="270.0" y2="1227.3" stroke="#000" stroke-width="2.2"/>
<line x1="292.6" y1="1210.1" x2="292.6" y2="1221.4" stroke="#000" stroke-width="2.2"/>
<line x1="315.1" y1="1219.4" x2="315.1" y2="1232.5" stroke="#000" stroke-width="2.2"/>
<line x1="337.7" y1="1216.5" x2="337.7" y2="1227.3" stroke="#000" stroke-width="2.2"/>
<line x1="360.3" y1="1212.5" x2="360.3" y2="1226.8" stroke="#000" stroke-width="2.2"/>
<line x1="382.9" y1="1207.1" x2="382.9" y2="1219.4" stroke="#000" stroke-width="2.2"/>
<line x1="405.4" y1="1215.0" x2="405.4" y2="1227.6" stroke="#000" stroke-width="2.2"/>
<line x1="428.0" y1="1202.7" x2="428.0" y2="1212.0" stroke="#000" stroke-width="2.2"/>
<line x1="450.6" y1="1198.7" x2="450.6" y2="1212.8" stroke="#000" stroke-width="2.2"/>
<line x1="473.2" y1="1203.4" x2="473.2" y2="1214.0" stroke="#000" stroke-width="2.2"/>
<line x1="495.7" y1="1218.2" x2="495.7" y2="1232.2" stroke="#000" stroke-width="2.2"/>
<line x1="518.3" y1="1207.5" x2="518.3" y2="1217.3" stroke="#000" stroke-width="2.2"/>
<line x1="540.9" y1="1214.4" x2="540.9" y2="1226.2" stroke="#000" stroke-width="2.2"/>
<line x1="563.5" y1="1209.4" x2="563.5" y2="1220.5" stroke="#000" stroke-width="2.2"/>
<line x1="586.0" y1="1198.3" x2="586.0" y2="1210.7" stroke="#000" stroke-width="2.2"/>
<line x1="608.6" y1="1199.1" x2="608.6" y2="1210.7" stroke="#000" stroke-width="2.2"/>
<line x1="631.2" y1="1201.5" x2="631.2" y2="1211.9" stroke="#000" stroke-width="2.2"/>
<line x1="653.8" y1="1205.7" x2="653.8" y2="1220.5" stroke="#000" stroke-width="2.2"/>
<line x1="676.3" y1="1207.7" x2="676.3" y2="1218.1" stroke="#000" stroke-width="2.2"/>
<line x1="698.9" y1="1193.4" x2="698.9" y2="1204.5" stroke="#000" stroke-width="2.2"/>
<line x1="721.5" y1="1197.6" x2="721.5" y2="1205.7" stroke="#000" stroke-width="2.2"/>
<line x1="744.0" y1="1217.3" x2="744.0" y2="1232.8" stroke="#000" stroke-width="2.2"/>
<line x1="766.6" y1="1197.8" x2="766.6" y2="1211.4" stroke="#000" stroke-width="2.2"/>
<line x1="789.2" y1="1246.4" x2="789.2" y2="1258.7" stroke="#000" stroke-width="2.2"/>
<line x1="811.8" y1="1209.9" x2="811.8" y2="1222.2" stroke="#000" stroke-width="2.2"/>
<line x1="834.3" y1="1198.3" x2="834.3" y2="1207.0" stroke="#000" stroke-width="2.2"/>
<line x1="856.9" y1="1207.0" x2="856.9" y2="1220.5" stroke="#000" stroke-width="2.2"/>
<line x1="879.5" y1="1208.9" x2="879.5" y2="1219.8" stroke="#000" stroke-width="2.2"/>
<line x1="902.1" y1="1202.0" x2="902.1" y2="1217.3" stroke="#000" stroke-width="2.2"/>
<line x1="924.6" y1="1208.9" x2="924.6" y2="1225.4" stroke="#000" stroke-width="2.2"/>
<line x1="947.2" y1="1202.0" x2="947.2" y2="1216.8" stroke="#000" stroke-width="2.2"/>
<line x1="969.8" y1="1225.4" x2="969.8" y2="1235.3" stroke="#000" stroke-width="2.2"/>
<line x1="992.4" y1="1243.9" x2="992.4" y2="1264.9" stroke="#000" stroke-width="2.2"/>
<line x1="1014.9" y1="1226.7" x2="1014.9" y2="1236.5" stroke="#000" stroke-width="2.2"/>
<line x1="1037.5" y1="1245.9" x2="1037.5" y2="1264.9" stroke="#000" stroke-width="2.2"/>
<line x1="1060.1" y1="1239.0" x2="1060.1" y2="1251.3" stroke="#000" stroke-width="2.2"/>
<line x1="1082.7" y1="1236.5" x2="1082.7" y2="1243.9" stroke="#000" stroke-width="2.2"/>
<line x1="1105.2" y1="1230.4" x2="1105.2" y2="1237.8" stroke="#000" stroke-width="2.2"/>
<line x1="1127.8" y1="1276.5" x2="1127.8" y2="1290.7" stroke="#000" stroke-width="2.2"/>
<line x1="1150.4" y1="1226.2" x2="1150.4" y2="1240.2" stroke="#000" stroke-width="2.2"/>
<line x1="1173.0" y1="1234.6" x2="1173.0" y2="1246.4" stroke="#000" stroke-width="2.2"/>
<line x1="1195.5" y1="1227.9" x2="1195.5" y2="1237.8" stroke="#000" stroke-width="2.2"/>
<line x1="1218.1" y1="1227.2" x2="1218.1" y2="1236.5" stroke="#000" stroke-width="2.2"/>
<line x1="1240.7" y1="1235.3" x2="1240.7" y2="1245.2" stroke="#000" stroke-width="2.2"/>
<line x1="1263.3" y1="1236.5" x2="1263.3" y2="1246.9" stroke="#000" stroke-width="2.2"/>
<line x1="1285.8" y1="1229.6" x2="1285.8" y2="1245.9" stroke="#000" stroke-width="2.2"/>
<line x1="1308.4" y1="1227.9" x2="1308.4" y2="1246.9" stroke="#000" stroke-width="2.2"/>
<line x1="1331.0" y1="1262.4" x2="1331.0" y2="1288.3" stroke="#000" stroke-width="2.2"/>
<line x1="1353.5" y1="1274.7" x2="1353.5" y2="1302.0" stroke="#000" stroke-width="2.2"/>
<line x1="1376.1" y1="1236.0" x2="1376.1" y2="1252.6" stroke="#000" stroke-width="2.2"/>
<line x1="1398.7" y1="1227.2" x2="1398.7" y2="1241.0" stroke="#000" stroke-width="2.2"/>
<text x="-0.50" y="24.20" font-family='"Liberation Sans", sans-serif' font-weight="bold" font-size="29.85">A</text>
<text x="-0.22" y="325.07" font-family='"Liberation Sans", sans-serif' font-weight="bold" font-size="30.05">B</text>
<text x="-0.06" y="594.25" font-family='"Liberation Sans", sans-serif' font-weight="bold" font-size="30.57">C</text>
<text x="-0.04" y="856.72" font-family='"Liberation Sans", sans-serif' font-weight="bold" font-size="30.64">D</text>
<text x="-0.11" y="1136.16" font-family='"Liberation Sans", sans-serif' font-weight="bold" font-size="29.02">E</text>
<text x="40.77" y="90.43" font-family='"Liberation Serif", serif' font-weight="normal" font-size="41.18" stroke="#000" stroke-width="0.6">28.5</text>
<text x="40.39" y="180.62" font-family='"Liberation Serif", serif' font-weight="normal" font-size="41.61" stroke="#000" stroke-width="0.6">27.5</text>
<text x="40.46" y="266.24" font-family='"Liberation Serif", serif' font-weight="normal" font-size="41.53" stroke="#000" stroke-width="0.6">26.5</text>
<text x="55.61" y="358.37" font-family='"Liberation Serif", serif' font-weight="normal" font-size="40.98" stroke="#000" stroke-width="0.6">1.0</text>
<text x="55.23" y="401.01" font-family='"Liberation Serif", serif' font-weight="normal" font-size="40.51" stroke="#000" stroke-width="0.6">0.5</text>
<text x="55.47" y="446.95" font-family='"Liberation Serif", serif' font-weight="normal" font-size="41.09" stroke="#000" stroke-width="0.6">0.0</text>
<text x="43.66" y="493.21" font-family='"Liberation Serif", serif' font-weight="normal" font-size="40.18" stroke="#000" stroke-width="0.6">-0.5</text>
<text x="43.81" y="536.78" font-family='"Liberation Serif", serif' font-weight="normal" font-size="40.24" stroke="#000" stroke-width="0.6">-1.0</text>
<text x="54.67" y="630.93" font-family='"Liberation Serif", serif' font-weight="normal" font-size="41.82" stroke="#000" stroke-width="0.6">70</text>
<text x="54.01" y="706.56" font-family='"Liberation Serif", serif' font-weight="normal" font-size="41.74" stroke="#000" stroke-width="0.6">50</text>
<text x="54.34" y="784.98" font-family='"Liberation Serif", serif' font-weight="normal" font-size="41.50" stroke="#000" stroke-width="0.6">30</text>
<text x="44.07" y="930.42" font-family='"Liberation Serif", serif' font-weight="normal" font-size="41.30" stroke="#000" stroke-width="0.6">250</text>
<text x="41.65" y="1003.17" font-family='"Liberation Serif", serif' font-weight="normal" font-size="41.61" stroke="#000" stroke-width="0.6">150</text>
<text x="57.06" y="1075.95" font-family='"Liberation Serif", serif' font-weight="normal" font-size="41.26" stroke="#000" stroke-width="0.6">50</text>
<text x="42.51" y="1164.94" font-family='"Liberation Serif", serif' font-weight="normal" font-size="41.38" stroke="#000" stroke-width="0.6">300</text>
<text x="42.22" y="1222.24" font-family='"Liberation Serif", serif' font-weight="normal" font-size="41.70" stroke="#000" stroke-width="0.6">250</text>
<text x="42.44" y="1281.65" font-family='"Liberation Serif", serif' font-weight="normal" font-size="41.41" stroke="#000" stroke-width="0.6">200</text>
<text x="42.82" y="1340.89" font-family='"Liberation Serif", serif' font-weight="normal" font-size="41.39" stroke="#000" stroke-width="0.6">150</text>
<text x="197.53" y="79.52" font-family='"Liberation Serif", serif' font-weight="normal" font-size="43.51" stroke="#000" stroke-width="0.9">SST</text>
<text x="282.37" y="79.55" font-family='"Liberation Serif", serif' font-weight="normal" font-size="37.49" stroke="#000" stroke-width="0.9">(°C)</text>
<text x="201.09" y="355.45" font-family='"Liberation Serif", serif' font-weight="normal" font-size="43.34" stroke="#000" stroke-width="0.9">SSTA (°C)</text>
<text x="177.72" y="608.78" font-family='"Liberation Serif", serif' font-weight="normal" font-size="42.58" stroke="#000" stroke-width="0.9">Max Instant</text>
<text x="398.10" y="608.71" font-family='"Liberation Serif", serif' font-weight="normal" font-size="42.58" stroke="#000" stroke-width="0.9">Wind</text>
<text x="504.64" y="608.22" font-family='"Liberation Serif", serif' font-weight="normal" font-size="42.58" stroke="#000" stroke-width="0.9">(km*h</text>
<text x="616.65" y="594.43" font-family='"Liberation Serif", serif' font-weight="normal" font-size="26.91" stroke="#000" stroke-width="0.9">-1</text>
<text x="642.40" y="608.43" font-family='"Liberation Serif", serif' font-weight="normal" font-size="43.44" stroke="#000" stroke-width="0.9">)</text>
<text x="172.90" y="881.11" font-family='"Liberation Serif", serif' font-weight="normal" font-size="41.60" stroke="#000" stroke-width="0.9">Precipitation</text>
<text x="405.67" y="881.17" font-family='"Liberation Serif", serif' font-weight="normal" font-size="41.56" stroke="#000" stroke-width="0.9">(mm)</text>
<text x="174.09" y="1154.36" font-family='"Liberation Serif", serif' font-weight="normal" font-size="41.35" stroke="#000" stroke-width="0.9">Insolation</text>
<text x="356.04" y="1153.86" font-family='"Liberation Serif", serif' font-weight="normal" font-size="42.32" stroke="#000" stroke-width="0.9">(hours)</text>
<text x="1274.07" y="64.03" font-family='"Liberation Serif", serif' font-weight="normal" font-size="39.08" stroke="#000" stroke-width="0.6">p</text>
<text x="1304.30" y="63.43" font-family='"Liberation Serif", serif' font-weight="normal" font-size="37.37" stroke="#000" stroke-width="0.6">&lt;</text>
<text x="1334.03" y="63.06" font-family='"Liberation Serif", serif' font-weight="normal" font-size="37.37" stroke="#000" stroke-width="0.6">0.0001</text>
<text x="1274.07" y="352.73" font-family='"Liberation Serif", serif' font-weight="normal" font-size="39.08" stroke="#000" stroke-width="0.6">p</text>
<text x="1304.36" y="352.58" font-family='"Liberation Serif", serif' font-weight="normal" font-size="37.67" stroke="#000" stroke-width="0.6">&lt;</text>
<text x="1333.63" y="352.05" font-family='"Liberation Serif", serif' font-weight="normal" font-size="37.67" stroke="#000" stroke-width="0.6">0.0001</text>
<text x="1279.42" y="617.85" font-family='"Liberation Serif", serif' font-weight="normal" font-size="38.86" stroke="#000" stroke-width="0.6">p</text>
<text x="1309.63" y="617.56" font-family='"Liberation Serif", serif' font-weight="normal" font-size="37.45" stroke="#000" stroke-width="0.6">&lt;</text>
<text x="1339.13" y="617.18" font-family='"Liberation Serif", serif' font-weight="normal" font-size="37.45" stroke="#000" stroke-width="0.6">0.0001</text>
<text x="1274.38" y="877.12" font-family='"Liberation Serif", serif' font-weight="normal" font-size="39.01" stroke="#000" stroke-width="0.6">p</text>
<text x="1304.17" y="876.67" font-family='"Liberation Serif", serif' font-weight="normal" font-size="37.83" stroke="#000" stroke-width="0.6">=</text>
<text x="1333.70" y="876.51" font-family='"Liberation Serif", serif' font-weight="normal" font-size="37.83" stroke="#000" stroke-width="0.6">0.15</text>
<text x="1286.18" y="1139.09" font-family='"Liberation Serif", serif' font-weight="normal" font-size="38.38" stroke="#000" stroke-width="0.6">p</text>
<text x="1316.09" y="1138.50" font-family='"Liberation Serif", serif' font-weight="normal" font-size="37.58" stroke="#000" stroke-width="0.6">&lt;</text>
<text x="1345.51" y="1137.97" font-family='"Liberation Serif", serif' font-weight="normal" font-size="37.58" stroke="#000" stroke-width="0.6">0.0001</text>
<text x="178.85" y="1372.63" font-family='"Liberation Serif", serif' font-weight="normal" font-size="41.65" stroke="#000" stroke-width="0.6">1966</text>
<text x="292.02" y="1372.28" font-family='"Liberation Serif", serif' font-weight="normal" font-size="40.57" stroke="#000" stroke-width="0.6">1971</text>
<text x="405.69" y="1372.57" font-family='"Liberation Serif", serif' font-weight="normal" font-size="41.46" stroke="#000" stroke-width="0.6">1976</text>
<text x="518.83" y="1372.14" font-family='"Liberation Serif", serif' font-weight="normal" font-size="40.76" stroke="#000" stroke-width="0.6">1981</text>
<text x="632.42" y="1372.54" font-family='"Liberation Serif", serif' font-weight="normal" font-size="41.38" stroke="#000" stroke-width="0.6">1986</text>
<text x="743.53" y="1372.16" font-family='"Liberation Serif", serif' font-weight="normal" font-size="41.25" stroke="#000" stroke-width="0.6">1991</text>
<text x="857.13" y="1372.51" font-family='"Liberation Serif", serif' font-weight="normal" font-size="41.28" stroke="#000" stroke-width="0.6">1996</text>
<text x="971.66" y="1372.20" font-family='"Liberation Serif", serif' font-weight="normal" font-size="40.95" stroke="#000" stroke-width="0.6">2001</text>
<text x="1082.59" y="1372.67" font-family='"Liberation Serif", serif' font-weight="normal" font-size="41.80" stroke="#000" stroke-width="0.6">2006</text>
<text x="1194.41" y="1370.27" font-family='"Liberation Serif", serif' font-weight="normal" font-size="41.95" stroke="#000" stroke-width="0.6">2011</text>
<text x="1308.47" y="1370.36" font-family='"Liberation Serif", serif' font-weight="normal" font-size="42.22" stroke="#000" stroke-width="0.6">2016</text>
</svg></body></html>
